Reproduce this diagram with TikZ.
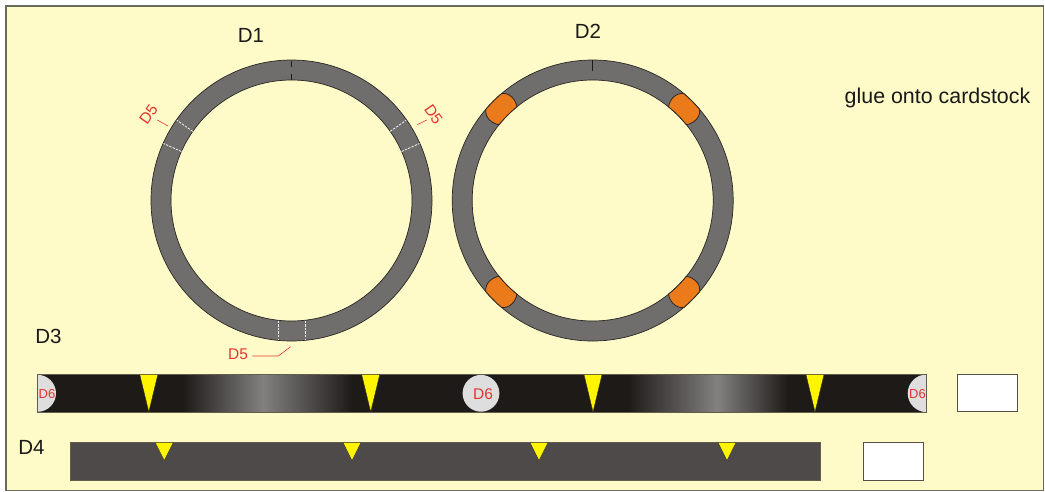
\documentclass[tikz,border=0pt]{standalone}
\usepackage{fontspec}
\setmainfont{Liberation Sans}
\definecolor{paper}{HTML}{FFFBC8}
\definecolor{ringgrey}{HTML}{6F6E6C}
\definecolor{edge}{HTML}{2A2725}
\definecolor{barblack}{HTML}{1E1A18}
\definecolor{barmid}{HTML}{828180}
\definecolor{bargrey}{HTML}{4E4A49}
\definecolor{patch}{HTML}{EB7A1B}
\definecolor{marker}{HTML}{FFF500}
\definecolor{note}{HTML}{E3342F}
\definecolor{disc}{HTML}{DEDEDF}
\definecolor{frameline}{HTML}{6A6A60}
\tikzset{
  ringshape/.style={fill=ringgrey,draw=edge,line width=0.7pt,even odd rule},
  cutline/.style={draw=white!92!black,line width=0.9pt,dash pattern=on 2.4pt off 1.2pt},
  centretick/.style={draw=barblack,line width=1.3pt},
  tab/.style={fill=patch,draw=edge,line width=0.8pt},
  tri/.style={fill=marker,draw=edge,line width=0.35pt},
  leader/.style={draw=note,line width=0.6pt},
  lab/.style={font=\fontsize{20.5}{24}\selectfont,text=black!90,inner sep=0pt},
  gluelab/.style={font=\fontsize{21.4}{24}\selectfont,text=black!90,inner sep=0pt},
  redlab/.style={font=\fontsize{15.5}{18}\selectfont,text=note,inner sep=0pt},
  redsmall/.style={font=\fontsize{13}{15}\selectfont,text=note,inner sep=0pt},
  barline/.style={draw=barblack!70!paper,line width=0.7pt},
  blank/.style={fill=white,draw=edge!80!paper,line width=0.9pt}
}
\begin{document}
\begin{tikzpicture}[x=1pt,y=-1pt]
\useasboundingbox (0,0) rectangle (1045,491);
\fill[white] (0,0) rectangle (1045,491);
\draw[frameline,line width=1.3pt,fill=paper] (6,6) rectangle (1043.7,490.3);
% D1 ring
\coordinate (c1) at (291.5,200.5);
\draw[ringshape] (c1) circle (140.5) (c1) circle (120.5);
\begin{scope}[shift={(c1)},y=1pt]
  \coordinate (a1) at (145:120.5); \coordinate (a2) at (145:140);
  \coordinate (b1) at (156:120.5); \coordinate (b2) at (156:140);
  \coordinate (d1) at (35:120.5);  \coordinate (d2) at (35:140);
  \coordinate (e1) at (24:120.5);  \coordinate (e2) at (24:140);
  \coordinate (t1) at (90:120.5); \coordinate (t2) at (90:127); \coordinate (t3) at (90:133.5); \coordinate (t4) at (90:140);
\end{scope}
\coordinate (f1) at (278.3,320.5); \coordinate (f2) at (278.3,340);
\coordinate (g1) at (305,320.5); \coordinate (g2) at (305,340);
\draw[cutline] (a1) -- (a2);
\draw[cutline] (b1) -- (b2);
\draw[cutline] (d1) -- (d2);
\draw[cutline] (e1) -- (e2);
\draw[cutline] (f1) -- (f2);
\draw[cutline] (g1) -- (g2);
\draw[centretick] (t1) -- (t2);
\draw[centretick] (t3) -- (t4);
% D2 ring
\coordinate (c2) at (592.7,200.5);
\draw[ringshape] (c2) circle (140.5) (c2) circle (120.5);
\foreach \r in {0,90,180,270}{
  \begin{scope}[shift={(c2)},y=1pt,rotate=\r]
    \draw[tab] (129:120.5) .. controls (127.4:126) and (127.4:136.5) .. (130.5:140.5)
      arc[start angle=130.5,end angle=139.5,radius=140.5]
      .. controls (142.6:136.5) and (142.6:126) .. (141:120.5)
      arc[start angle=141,end angle=129,radius=120.5] -- cycle;
  \end{scope}
}
\begin{scope}[shift={(c2)},y=1pt]
  \coordinate (u1) at (90:129.5); \coordinate (u2) at (90:140.5);
\end{scope}
\draw[centretick] (u1) -- (u2);
% labels
\node[lab] (lD1) at (251,35) {D1};
\node[lab] (lD2) at (588,31.5) {D2};
\node[lab] (lD3) at (48.5,336) {D3};
\node[lab] (lD4) at (31.5,447) {D4};
\node[gluelab] (glue) at (937.5,98) {glue onto cardstock};
\node[redlab,rotate=55] (n1) at (148.5,114.5) {D5};
\node[redlab,rotate=-55] (n2) at (433.5,114.5) {D5};
\node[redlab] (n3) at (238,354.5) {D5};
\coordinate (n1a) at (157.3,120); \coordinate (n1b) at (168,126);
\coordinate (n2a) at (417.3,124.7); \coordinate (n2b) at (426.7,120);
\coordinate (n3a) at (252.3,356); \coordinate (n3b) at (278.3,356); \coordinate (n3c) at (290.7,346.7);
\draw[leader] (n1a) -- (n1b);
\draw[leader] (n2a) -- (n2b);
\draw[leader] (n3a) -- (n3b) -- (n3c);
% D3 bar
\fill[barblack] (37.5,374) rectangle (926.5,412.5);
\shade[left color=barblack,right color=barmid] (183,375) rectangle (263,411.5);
\shade[left color=barmid,right color=barblack] (263,375) rectangle (352,411.5);
\shade[left color=barblack,right color=barmid] (628,375) rectangle (717,411.5);
\shade[left color=barmid,right color=barblack] (717,375) rectangle (788,411.5);
\begin{scope}
  \clip (37.5,374) rectangle (926.5,412.5);
  \fill[disc] (37.5,393.3) circle (18.5);
  \fill[disc] (926.5,393.3) circle (18.8);
\end{scope}
\fill[disc] (481,393.3) circle (18.4);
\draw[barline] (37.5,374) rectangle (926.5,412.5);
\node[redsmall] (s1) at (47,394) {D6};
\node[redlab] (s2) at (483,394) {D6};
\node[redsmall] (s3) at (917.5,394) {D6};
\foreach \x in {148.8,370.7,593,815}{
  \draw[tri] (\x-9,374.5) -- (\x+9,374.5) -- (\x,411.8) -- cycle;
}
\draw[blank] (957.3,374) rectangle (1017.7,411.7);
% D4 bar
\fill[bargrey] (70,442) rectangle (820.7,480);
\draw[barline] (70,442) rectangle (820.7,480);
\foreach \x in {164.2,352,539,727}{
  \draw[tri] (\x-9,442.5) -- (\x+9,442.5) -- (\x,460.5) -- cycle;
}
\draw[blank] (863.3,442) rectangle (923.7,480);
\end{tikzpicture}
\end{document}
